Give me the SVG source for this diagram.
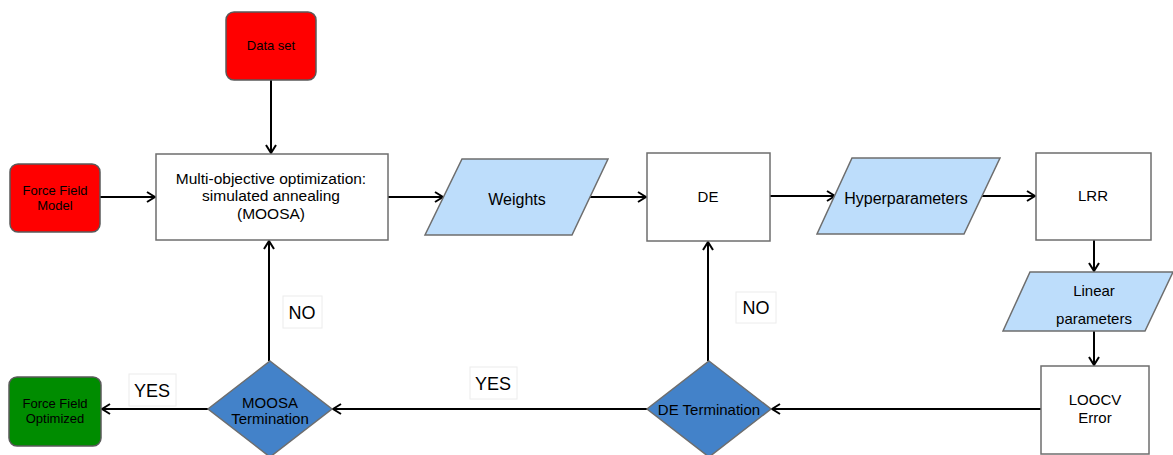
<svg xmlns="http://www.w3.org/2000/svg" width="1173" height="455" viewBox="0 0 1173 455">
<defs>
<marker id="arr" viewBox="0 0 10 12" refX="9" refY="6" markerWidth="10" markerHeight="12" markerUnits="userSpaceOnUse" orient="auto">
<path d="M1,1 L9,6 L1,11" fill="none" stroke="#000" stroke-width="2"/>
</marker>
<style>
text{font-family:"Liberation Sans",Arial,sans-serif;fill:#000;text-anchor:middle}
.red{fill:#FF0000;stroke:#5a5a5a;stroke-width:1.5}
.grn{fill:#008C00;stroke:#5a5a5a;stroke-width:1.5}
.box{fill:#fff;stroke:#6e6e6e;stroke-width:1.5}
.par{fill:#BDDDFB;stroke:#6e6e6e;stroke-width:1.5}
.dia{fill:#4382C9;stroke:#6e6e6e;stroke-width:1.5}
.lbl{fill:#fff;stroke:#ececec;stroke-width:1}
.c{fill:none;stroke:#000;stroke-width:2}
.s13{font-size:13px}
.s15{font-size:15px}
.s16{font-size:16px}
.s18{font-size:18px}
</style>
</defs>
<rect width="1173" height="455" fill="#fff"/>
<g id="connectors">
<line class="c" x1="271" y1="80" x2="271" y2="153" marker-end="url(#arr)"/>
<line class="c" x1="100" y1="197" x2="155" y2="197" marker-end="url(#arr)"/>
<line class="c" x1="388" y1="197" x2="443" y2="197" marker-end="url(#arr)"/>
<line class="c" x1="589" y1="197" x2="646" y2="197" marker-end="url(#arr)"/>
<line class="c" x1="770" y1="196" x2="835" y2="196" marker-end="url(#arr)"/>
<line class="c" x1="982" y1="196" x2="1035" y2="196" marker-end="url(#arr)"/>
<line class="c" x1="1094" y1="240" x2="1094" y2="271" marker-end="url(#arr)"/>
<line class="c" x1="1094" y1="331" x2="1094" y2="365" marker-end="url(#arr)"/>
<line class="c" x1="1041" y1="409" x2="772" y2="409" marker-end="url(#arr)"/>
<line class="c" x1="708" y1="361" x2="708" y2="242" marker-end="url(#arr)"/>
<line class="c" x1="647" y1="409" x2="333" y2="409" marker-end="url(#arr)"/>
<line class="c" x1="269" y1="361" x2="269" y2="241" marker-end="url(#arr)"/>
<line class="c" x1="208" y1="409" x2="102" y2="409" marker-end="url(#arr)"/>
</g>
<g id="dataset">
<rect class="red" x="226" y="12" width="90" height="68" rx="8"/>
<text class="s13" x="271" y="50">Data set</text>
</g>
<g id="ffmodel">
<rect class="red" x="10" y="164" width="90" height="68" rx="8"/>
<text class="s13" x="55" y="195">Force Field</text>
<text class="s13" x="55" y="210">Model</text>
</g>
<g id="moosa">
<rect class="box" x="156" y="154" width="232" height="86"/>
<text class="s15" x="271" y="184" style="font-size:15.5px">Multi-objective optimization:</text>
<text class="s15" x="271" y="201" style="font-size:15.5px">simulated annealing</text>
<text class="s15" x="271" y="219" style="font-size:15.5px">(MOOSA)</text>
</g>
<g id="weights">
<polygon class="par" points="462,159 608,159 572,235 425,235"/>
<text class="s16" x="517" y="205">Weights</text>
</g>
<g id="de">
<rect class="box" x="647" y="153" width="123" height="88"/>
<text class="s15" x="708" y="202">DE</text>
</g>
<g id="hyper">
<polygon class="par" points="852,158 1000,158 964,234 817,234"/>
<text class="s16" x="906" y="204">Hyperparameters</text>
</g>
<g id="lrr">
<rect class="box" x="1036" y="153" width="115" height="87"/>
<text class="s15" x="1093" y="201">LRR</text>
</g>
<g id="linear">
<polygon class="par" points="1030,272 1173,272 1145,331 1003,331"/>
<text class="s15" x="1094" y="296">Linear</text>
<text class="s15" x="1094" y="324">parameters</text>
</g>
<g id="loocv">
<rect class="box" x="1041" y="366" width="108" height="88"/>
<text class="s15" x="1095" y="405">LOOCV</text>
<text class="s15" x="1095" y="423">Error</text>
</g>
<g id="determ">
<polygon class="dia" points="709,361 771,409 709,457 647,409"/>
<text class="s15" x="709" y="415">DE Termination</text>
</g>
<g id="moosaterm">
<polygon class="dia" points="270,361 332,409 270,457 208,409"/>
<text class="s15" x="270" y="408">MOOSA</text>
<text class="s15" x="270" y="424">Termination</text>
</g>
<g id="ffopt">
<rect class="grn" x="9" y="377" width="92" height="69" rx="8"/>
<text class="s13" x="55" y="408">Force Field</text>
<text class="s13" x="55" y="423">Optimized</text>
</g>
<g id="labels">
<rect class="lbl" x="283" y="296" width="39" height="32"/>
<text class="s18" x="302" y="319">NO</text>
<rect class="lbl" x="736" y="292" width="40" height="31"/>
<text class="s18" x="756" y="314">NO</text>
<rect class="lbl" x="129" y="374" width="47" height="32"/>
<text class="s18" x="152" y="397">YES</text>
<rect class="lbl" x="470" y="367" width="47" height="32"/>
<text class="s18" x="493" y="390">YES</text>
</g>
</svg>
